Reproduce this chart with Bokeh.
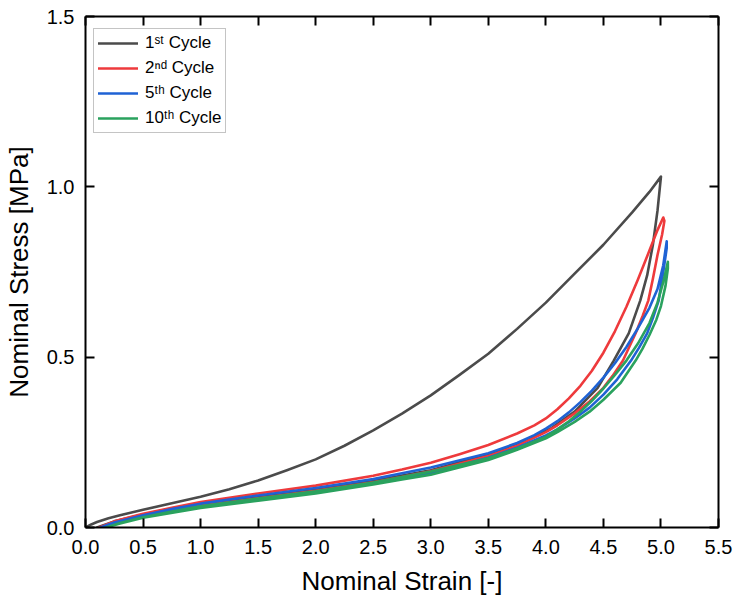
from bokeh.plotting import figure
from bokeh.models import (Range1d, LinearAxis, SingleIntervalTicker, NumeralTickFormatter,
                          Legend, LegendItem)
from bokeh.embed import file_html
from bokeh.resources import INLINE

# ---------------- data ----------------
# 1st cycle: loading then unloading
c1_strain = [0.00, 0.05, 0.10, 0.20, 0.30, 0.50, 0.75, 1.00, 1.25, 1.50, 1.75, 2.00, 2.25, 2.50,
             2.75, 3.00, 3.25, 3.50, 3.75, 4.00, 4.25, 4.50, 4.75, 4.90, 5.00,
             4.97, 4.93, 4.88, 4.82, 4.72, 4.59, 4.45, 4.25, 4.04, 3.75, 3.50, 3.00,
             2.50, 2.00, 1.50, 1.00, 0.50, 0.25, 0.10]
c1_stress = [0.000, 0.009, 0.016, 0.027, 0.036, 0.052, 0.071, 0.090, 0.112, 0.138, 0.168, 0.200, 0.240, 0.285,
             0.334, 0.388, 0.448, 0.510, 0.583, 0.660, 0.745, 0.830, 0.925, 0.985, 1.030,
             0.930, 0.830, 0.740, 0.666, 0.570, 0.490, 0.410, 0.340, 0.290, 0.245, 0.215, 0.168,
             0.137, 0.112, 0.090, 0.066, 0.038, 0.018, 0.000]

# 2nd cycle
c2_strain = [0.12, 0.25, 0.50, 0.75, 1.00, 1.50, 2.00, 2.50, 2.75, 3.00, 3.25, 3.50, 3.75, 3.90, 4.00,
             4.10, 4.20, 4.30, 4.40, 4.50, 4.60, 4.70, 4.80, 4.90, 4.97, 5.02,
             5.03, 5.01, 4.97, 4.93, 4.89, 4.84, 4.78, 4.67, 4.58, 4.50, 4.38, 4.25, 4.10, 4.00, 3.75,
             3.50, 3.00, 2.75, 2.50, 2.00, 1.50, 1.00, 0.50, 0.25, 0.12]
c2_stress = [0.000, 0.018, 0.040, 0.058, 0.075, 0.100, 0.123, 0.152, 0.170, 0.190, 0.215, 0.242, 0.276, 0.300, 0.320,
             0.347, 0.379, 0.416, 0.460, 0.513, 0.576, 0.648, 0.728, 0.813, 0.873, 0.910,
             0.900, 0.860, 0.800, 0.730, 0.666, 0.620, 0.570, 0.490, 0.445, 0.410, 0.370, 0.335, 0.300, 0.280, 0.240,
             0.210, 0.165, 0.148, 0.133, 0.108, 0.086, 0.064, 0.036, 0.015, 0.000]

# 5th cycle
c5_strain = [0.13, 0.25, 0.50, 0.75, 1.00, 1.50, 2.00, 2.50, 2.75, 3.00, 3.50, 3.75, 3.90, 4.00, 4.10, 4.20,
             4.30, 4.40, 4.50, 4.60, 4.70, 4.80, 4.90, 4.97, 5.02, 5.05,
             5.05, 5.02, 4.98, 4.93, 4.88, 4.81, 4.74, 4.62, 4.50, 4.38, 4.25, 4.10, 4.00, 3.75,
             3.50, 3.00, 2.75, 2.50, 2.00, 1.50, 1.00, 0.50, 0.25, 0.14]
c5_stress = [0.000, 0.015, 0.036, 0.054, 0.070, 0.094, 0.116, 0.142, 0.159, 0.176, 0.218, 0.248, 0.271, 0.290, 0.312, 0.338,
             0.368, 0.402, 0.440, 0.482, 0.530, 0.585, 0.645, 0.700, 0.770, 0.840,
             0.820, 0.750, 0.666, 0.615, 0.570, 0.528, 0.490, 0.435, 0.390, 0.352, 0.320, 0.288, 0.270, 0.234,
             0.205, 0.160, 0.145, 0.130, 0.104, 0.083, 0.061, 0.033, 0.013, 0.000]

# 10th cycle
c10_strain = [0.18, 0.30, 0.50, 0.75, 1.00, 1.50, 2.00, 2.50, 2.75, 3.00, 3.50, 3.75, 4.00, 4.10, 4.20,
              4.30, 4.40, 4.50, 4.60, 4.70, 4.80, 4.90, 4.97, 5.02, 5.06,
              5.06, 5.04, 5.00, 4.96, 4.90, 4.84, 4.78, 4.65, 4.50, 4.38, 4.25, 4.10, 4.00, 3.75,
              3.50, 3.00, 2.75, 2.50, 2.00, 1.50, 1.00, 0.50, 0.30, 0.18]
c10_stress = [0.000, 0.013, 0.030, 0.047, 0.062, 0.085, 0.106, 0.132, 0.148, 0.164, 0.203, 0.232, 0.266, 0.288, 0.312,
              0.340, 0.372, 0.408, 0.448, 0.490, 0.540, 0.600, 0.660, 0.720, 0.780,
              0.760, 0.710, 0.650, 0.610, 0.565, 0.525, 0.490, 0.425, 0.375, 0.340, 0.310, 0.280, 0.262, 0.228,
              0.198, 0.155, 0.141, 0.126, 0.100, 0.079, 0.057, 0.029, 0.012, 0.000]

labels = ["1ˢᵗ Cycle", "2ⁿᵈ Cycle", "5ᵗʰ Cycle", "10ᵗʰ Cycle"]
colors = ["#4b4b4b", "#ee3a3c", "#1f62d4", "#2aa25e"]
series = [(c1_strain, c1_stress), (c2_strain, c2_stress), (c5_strain, c5_stress), (c10_strain, c10_stress)]

FONT = "Liberation Sans"

p = figure(width=734, height=604, output_backend="svg", toolbar_location=None,
           x_range=Range1d(0, 5.5), y_range=Range1d(0, 1.5),
           min_border_left=85, min_border_right=16, min_border_top=16, min_border_bottom=77)
p.xgrid.visible = False
p.ygrid.visible = False
p.outline_line_color = None
p.background_fill_color = "white"
p.border_fill_color = "white"

renderers = []
for (xs, ys), c in zip(series, colors):
    r = p.line(xs, ys, line_color=c, line_width=2.6, line_join="round", line_cap="round")
    renderers.append(r)


def style_axis(ax, show_labels):
    ax.ticker = SingleIntervalTicker(interval=0.5, num_minor_ticks=0)
    ax.formatter = NumeralTickFormatter(format="0.0")
    ax.axis_line_width = 2
    ax.axis_line_color = "black"
    ax.major_tick_in = 9
    ax.major_tick_out = 0
    ax.major_tick_line_width = 2
    ax.major_tick_line_color = "black"
    ax.minor_tick_line_color = None
    if show_labels:
        ax.major_label_text_font = FONT
        ax.major_label_text_font_size = "20px"
        ax.major_label_text_color = "black"
        ax.axis_label_text_font = FONT
        ax.axis_label_text_font_size = "26px"
        ax.axis_label_text_font_style = "normal"
        ax.axis_label_text_color = "black"
    else:
        ax.major_label_text_font_size = "0px"
        ax.major_label_text_color = None
        ax.major_label_standoff = 0


xa = p.xaxis[0]
ya = p.yaxis[0]
style_axis(xa, True)
style_axis(ya, True)
xa.axis_label = "Nominal Strain [-]"
ya.axis_label = "Nominal Stress [MPa]"
xa.major_label_standoff = 12
xa.axis_label_standoff = 9
ya.major_label_standoff = 11
ya.axis_label_standoff = 10

top = LinearAxis()
right = LinearAxis()
style_axis(top, False)
style_axis(right, False)
p.add_layout(top, "above")
p.add_layout(right, "right")

legend = Legend(items=[LegendItem(label=l, renderers=[r]) for l, r in zip(labels, renderers)],
                location=(8, 394), orientation="vertical",
                label_text_font=FONT, label_text_font_size="17px", label_text_color="black",
                glyph_width=40, glyph_height=18, label_height=18, label_standoff=7,
                spacing=5, padding=4, margin=0,
                border_line_color="#8a8a8a", border_line_width=1.2,
                background_fill_color="white", background_fill_alpha=1.0)
p.add_layout(legend, "center")

open("out.html", "w").write(file_html(p, INLINE))
